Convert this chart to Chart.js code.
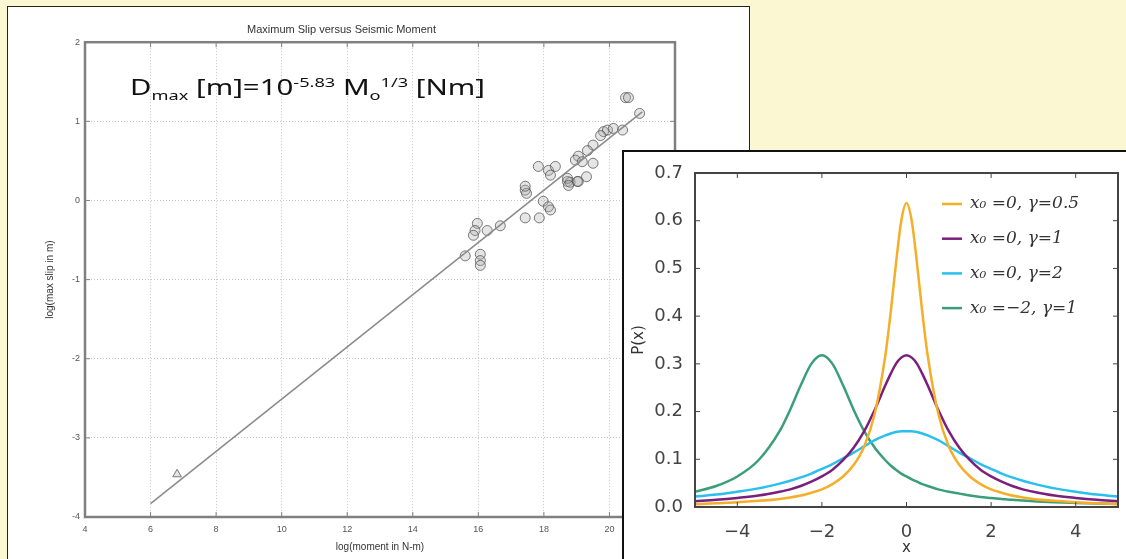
<!DOCTYPE html>
<html>
<head>
<meta charset="utf-8">
<script src="https://cdn.jsdelivr.net/npm/chart.js@4.4.1/dist/chart.umd.min.js"></script>
<style>
  body { margin: 0; width: 1126px; height: 559px; overflow: hidden; position: relative; background: #fcf7d3; }
  #leftBox { position: absolute; left: 7px; top: 6px; width: 741px; height: 560px; border: 1px solid #222; background: #fff; }
  #insetBox { position: absolute; left: 622px; top: 150px; width: 520px; height: 420px; border: 2px solid #111; background: #fff; }
  #formula { position: absolute; left: 130px; top: 77px; font: 21px "Noto Sans", sans-serif; line-height: 1; color: #111;
    white-space: nowrap; transform: scaleX(1.4); transform-origin: left top; }
  #formula sub, #formula sup { font-size: 13px; line-height: 0; }
</style>
</head>
<body>
<div id="leftBox"><canvas id="slipChart" width="741" height="560"></canvas></div>
<div id="formula">D<sub>max</sub> [m]=10<sup>-5.83</sup> M<sub>o</sub><sup>1/3</sup> [Nm]</div>
<div id="insetBox"><canvas id="cauchyChart" width="520" height="420"></canvas></div>
<script>
// slip vs moment
const logMoment = [15.60, 16.06, 16.06, 16.06, 15.97, 15.90, 15.85, 16.27, 16.67, 17.43, 17.47, 17.43,
  17.86, 17.98, 18.14, 18.20, 18.72, 18.80, 19.05, 19.30, 20.49, 20.58, 20.92, 19.82, 19.94, 19.73,
  20.12, 20.40, 19.50, 19.33, 19.05, 18.96, 19.17, 19.50, 17.83, 18.14, 18.35, 18.20, 18.72, 19.02,
  17.43, 18.75];
const logSlip = [-0.70, -0.68, -0.76, -0.82, -0.29, -0.38, -0.44, -0.38, -0.32, 0.13, 0.09, -0.22,
  -0.22, -0.01, -0.08, -0.12, 0.24, 0.23, 0.24, 0.30, 1.30, 1.30, 1.10, 0.87, 0.89, 0.82,
  0.91, 0.89, 0.70, 0.63, 0.56, 0.51, 0.49, 0.47, 0.43, 0.38, 0.43, 0.32, 0.28, 0.24,
  0.18, 0.19];
const outlierMoment = [6.81];
const outlierSlip = [-3.46];
const fitMoment = [6, 21];
const fitSlip = [-3.83, 1.12];
const slipXTicks = [4, 6, 8, 10, 12, 14, 16, 18, 20, 22];
const slipYTicks = [-4, -3, -2, -1, 0, 1, 2];

// cauchy curves
const xs = [-5, -4.5, -4, -3.5, -3, -2.75, -2.5, -2.25, -2, -1.75, -1.5, -1.25, -1, -0.75, -0.5, -0.375,
  -0.25, -0.125, 0, 0.125, 0.25, 0.375, 0.5, 0.75, 1, 1.25, 1.5, 1.75, 2, 2.25, 2.5, 2.75, 3, 3.5, 4, 4.5, 5];
const pHalf = [0.006, 0.008, 0.010, 0.013, 0.017, 0.020, 0.024, 0.030, 0.037, 0.048, 0.064, 0.088, 0.127, 0.196, 0.318, 0.407,
  0.509, 0.599, 0.637, 0.599, 0.509, 0.407, 0.318, 0.196, 0.127, 0.088, 0.064, 0.048, 0.037, 0.030, 0.024, 0.020, 0.017, 0.013, 0.010, 0.008, 0.006];
const pOne = [0.012, 0.015, 0.019, 0.024, 0.032, 0.037, 0.044, 0.053, 0.064, 0.078, 0.098, 0.124, 0.159, 0.204, 0.255, 0.279,
  0.300, 0.313, 0.318, 0.313, 0.300, 0.279, 0.255, 0.204, 0.159, 0.124, 0.098, 0.078, 0.064, 0.053, 0.044, 0.037, 0.032, 0.024, 0.019, 0.015, 0.012];
const pTwo = [0.022, 0.026, 0.032, 0.039, 0.049, 0.055, 0.062, 0.070, 0.080, 0.090, 0.102, 0.114, 0.127, 0.140, 0.150, 0.154,
  0.157, 0.159, 0.159, 0.159, 0.157, 0.154, 0.150, 0.140, 0.127, 0.114, 0.102, 0.090, 0.080, 0.070, 0.062, 0.055, 0.049, 0.039, 0.032, 0.026, 0.022];
const pShift = [0.032, 0.044, 0.064, 0.098, 0.159, 0.204, 0.255, 0.300, 0.318, 0.300, 0.255, 0.204, 0.159, 0.124, 0.098, 0.087,
  0.078, 0.070, 0.064, 0.058, 0.053, 0.048, 0.044, 0.037, 0.032, 0.028, 0.024, 0.021, 0.019, 0.017, 0.015, 0.0135, 0.012, 0.010, 0.0086, 0.0074, 0.0064];
const cauchyLabels = ['x\u2080 =0, \u03b3=0.5', 'x\u2080 =0, \u03b3=1', 'x\u2080 =0, \u03b3=2', 'x\u2080 =\u22122, \u03b3=1'];
const cauchyColors = ['#f5ae2a', '#7a1f7c', '#2bc0ec', '#3a9e78'];
const cauchyXTicks = [-4, -2, 0, 2, 4];

const pts = (a, b) => a.map((v, i) => ({ x: v, y: b[i] }));
const minus = v => (v < 0 ? '\u2212' + Math.abs(v) : String(v));

// box around plot area with inward tick marks (matplotlib look)
const framePlugin = {
  id: 'frame',
  afterDatasetsDraw(chart, args, o) {
    const { ctx, chartArea: a, scales: { x, y } } = chart;
    ctx.save();
    ctx.strokeStyle = o.color;
    ctx.lineWidth = o.width;
    ctx.strokeRect(a.left, a.top, a.right - a.left, a.bottom - a.top);
    ctx.lineWidth = 1;
    ctx.beginPath();
    x.ticks.forEach((t, i) => {
      const p = x.getPixelForTick(i);
      ctx.moveTo(p, a.bottom); ctx.lineTo(p, a.bottom - o.tick);
      ctx.moveTo(p, a.top); ctx.lineTo(p, a.top + o.tick);
    });
    y.ticks.forEach((t, i) => {
      const p = y.getPixelForTick(i);
      ctx.moveTo(a.left, p); ctx.lineTo(a.left + o.tick, p);
      ctx.moveTo(a.right, p); ctx.lineTo(a.right - o.tick, p);
    });
    ctx.stroke();
    ctx.restore();
  }
};

new Chart(document.getElementById('slipChart'), {
  type: 'scatter',
  data: {
    datasets: [
      { data: pts(fitMoment, fitSlip), type: 'line', showLine: true, borderColor: '#8a8a8a', borderWidth: 1.5, pointRadius: 0 },
      { data: pts(logMoment, logSlip), pointStyle: 'circle', pointRadius: 5, borderWidth: 1,
        borderColor: 'rgba(80,80,80,0.75)', backgroundColor: 'rgba(170,170,170,0.3)' },
      { data: pts(outlierMoment, outlierSlip), pointStyle: 'triangle', pointRadius: 5, borderWidth: 1,
        borderColor: 'rgba(80,80,80,0.75)', backgroundColor: 'rgba(170,170,170,0.3)' }
    ]
  },
  options: {
    responsive: false,
    animation: false,
    layout: { padding: { left: 0, right: 74, top: 0, bottom: 0 } },
    plugins: {
      legend: { display: false },
      tooltip: { enabled: false },
      title: { display: true, text: 'Maximum Slip versus Seismic Moment', color: '#333',
        font: { family: 'Liberation Sans', size: 11, weight: 'normal' }, padding: { top: 16, bottom: 6 } },
      frame: { color: '#808080', width: 2.5, tick: 5 }
    },
    scales: {
      x: {
        type: 'linear', min: 4, max: 22,
        afterBuildTicks: s => { s.ticks = slipXTicks.map(v => ({ value: v })); },
        afterFit: s => { s.height = 50; },
        grid: { color: '#c4c4c4', drawTicks: false },
        border: { display: false, dash: [1, 2] },
        ticks: { color: '#555', font: { family: 'Liberation Sans', size: 9 }, padding: 7 },
        title: { display: true, text: 'log(moment in N-m)', color: '#333',
          font: { family: 'Liberation Sans', size: 10 }, padding: { top: 0, bottom: 14 } }
      },
      y: {
        type: 'linear', min: -4, max: 2,
        afterBuildTicks: s => { s.ticks = slipYTicks.map(v => ({ value: v })); },
        afterFit: s => { s.width = 77; },
        grid: { color: '#c4c4c4', drawTicks: false },
        border: { display: false, dash: [1, 2] },
        ticks: { color: '#555', font: { family: 'Liberation Sans', size: 9 }, padding: 5 },
        title: { display: true, text: 'log(max slip in m)', color: '#333',
          font: { family: 'Liberation Sans', size: 10 }, padding: { top: 36, bottom: 0 } }
      }
    }
  },
  plugins: [framePlugin]
});

// legend drawn inside the plot, upper right
const insetLegend = {
  id: 'insetLegend',
  afterDraw(chart, args, o) {
    const { ctx } = chart;
    ctx.save();
    ctx.font = o.font;
    ctx.textBaseline = 'middle';
    chart.data.datasets.forEach((d, i) => {
      const y = o.y + i * o.step;
      ctx.strokeStyle = d.borderColor;
      ctx.lineWidth = 2.5;
      ctx.beginPath(); ctx.moveTo(o.x, y); ctx.lineTo(o.x + 20, y); ctx.stroke();
      ctx.fillStyle = '#333';
      ctx.fillText(d.label, o.x + 28, y);
    });
    ctx.restore();
  }
};

new Chart(document.getElementById('cauchyChart'), {
  type: 'line',
  data: {
    datasets: [pHalf, pOne, pTwo, pShift].map((p, i) => ({
      label: cauchyLabels[i], data: pts(xs, p), borderColor: cauchyColors[i],
      borderWidth: 2.5, pointRadius: 0, cubicInterpolationMode: 'monotone', fill: false
    }))
  },
  options: {
    responsive: false,
    animation: false,
    layout: { padding: { left: 0, right: 26, top: 21, bottom: 0 } },
    plugins: {
      legend: { display: false },
      tooltip: { enabled: false },
      frame: { color: '#444', width: 2, tick: 5 },
      insetLegend: { x: 318, y: 52, step: 34.7, font: 'italic 17px "DejaVu Serif"' }
    },
    scales: {
      x: {
        type: 'linear', min: -5, max: 5,
        afterBuildTicks: s => { s.ticks = cauchyXTicks.map(v => ({ value: v })); },
        afterFit: s => { s.height = 65; },
        grid: { display: false },
        border: { display: false },
        ticks: { color: '#444', font: { family: 'DejaVu Sans', size: 18 }, padding: 7, callback: v => minus(v) },
        title: { display: true, text: 'x', color: '#333',
          font: { family: 'DejaVu Sans', size: 15 }, padding: { top: 0, bottom: 15 } }
      },
      y: {
        type: 'linear', min: 0, max: 0.7,
        ticks: { stepSize: 0.1, color: '#444', font: { family: 'DejaVu Sans', size: 18 }, padding: 4,
          callback: v => v.toFixed(1) },
        afterFit: s => { s.width = 71; },
        grid: { display: false },
        border: { display: false },
        title: { display: true, text: 'P(x)', color: '#333',
          font: { family: 'DejaVu Sans', size: 15 }, padding: { top: 6, bottom: 0 } }
      }
    }
  },
  plugins: [framePlugin, insetLegend]
});
</script>
</body>
</html>
